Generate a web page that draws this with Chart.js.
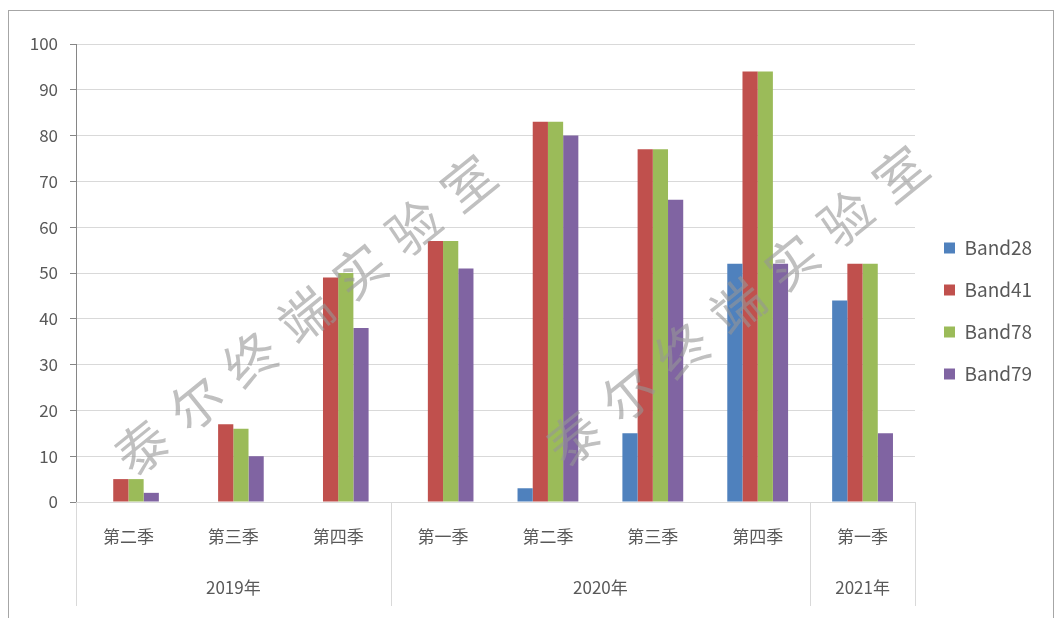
<!DOCTYPE html>
<html>
<head>
<meta charset="utf-8">
<script src="https://cdn.jsdelivr.net/npm/chart.js@4/dist/chart.umd.min.js"></script>
<style>
  body { margin: 0; background: #fff; }
  #wrap { position: relative; width: 1061px; height: 618px; }
  #frame { position: absolute; left: 8px; top: 10px; width: 1046px; height: 620px; border: 1px solid #a6a6a6; box-sizing: border-box; }
</style>
</head>
<body>
<div id="wrap">
  <div id="frame"></div>
  <canvas id="bandChart" width="1061" height="618"></canvas>
</div>
<script>
// quarters and the year each one belongs to
const quarters = ["第二季", "第三季", "第四季", "第一季", "第二季", "第三季", "第四季", "第一季"];
const years = ["2019年", "2020年", "2021年"];
const yearSpans = [3, 4, 1]; // number of quarters per year

const band28 = [0, 0, 0, 0, 3, 15, 52, 44];
const band41 = [5, 17, 49, 57, 83, 77, 94, 52];
const band78 = [5, 16, 50, 57, 83, 77, 94, 52];
const band79 = [2, 10, 38, 51, 80, 66, 52, 15];

const watermark = "泰尔终端实验室";
const textFont = "'Noto Sans CJK SC', 'Noto Sans', sans-serif";

// draws the year row, its dividers and the watermark
const extras = {
    id: "extras",
    beforeLayout(chart) {
        // keep the legend column as wide and placed as in the original
        const lg = chart.legend;
        if (lg && !lg._fixed) {
            const fit = lg.fit.bind(lg);
            lg.fit = function () { fit(); this.width = 146; };
            const draw = lg.draw.bind(lg);
            lg.draw = function () {
                const c = this.ctx;
                c.save();
                c.translate(6, -20);
                draw();
                c.restore();
            };
            lg._fixed = true;
        }
    },
    afterDatasetsDraw(chart) {
        const ctx = chart.ctx;
        ctx.save();
        ctx.fillStyle = "rgba(150,150,150,0.6)";
        ctx.font = "400 52px " + textFont;
        ctx.textAlign = "center";
        ctx.textBaseline = "middle";
        const ang = -39 * Math.PI / 180;
        const gap = 70;
        [[305, 315], [737, 306]].forEach(([cx, cy]) => {
            const chars = watermark.split("");
            chars.forEach((c, i) => {
                const d = (i - (chars.length - 1) / 2) * gap;
                ctx.save();
                ctx.translate(cx + d * Math.cos(ang), cy + d * Math.sin(ang));
                ctx.rotate(ang);
                ctx.fillText(c, 0, 0);
                ctx.restore();
            });
        });
        ctx.restore();
    },
    afterDraw(chart) {
        const ctx = chart.ctx;
        const area = chart.chartArea;
        const step = (area.right - area.left) / quarters.length;
        ctx.save();
        ctx.strokeStyle = "#d9d9d9";
        ctx.lineWidth = 1;
        let idx = 0;
        const bounds = [0];
        yearSpans.forEach(n => { idx += n; bounds.push(idx); });
        bounds.forEach(b => {
            const px = Math.round(area.left + b * step) + 0.5;
            ctx.beginPath();
            ctx.moveTo(px, area.bottom);
            ctx.lineTo(px, 606);
            ctx.stroke();
        });
        ctx.fillStyle = "#595959";
        ctx.font = "17px " + textFont;
        ctx.textAlign = "center";
        ctx.textBaseline = "middle";
        years.forEach((y, i) => {
            const mid = area.left + (bounds[i] + bounds[i + 1]) / 2 * step;
            ctx.fillText(y, mid, 588);
        });
        ctx.restore();
    }
};

document.addEventListener("DOMContentLoaded", () => {
    const ctx = document.getElementById("bandChart").getContext("2d");
    new Chart(ctx, {
        type: "bar",
        data: {
            labels: quarters,
            datasets: [
                { label: "Band28", data: band28, backgroundColor: "#4f81bd" },
                { label: "Band41", data: band41, backgroundColor: "#c0504d" },
                { label: "Band78", data: band78, backgroundColor: "#9bbb59" },
                { label: "Band79", data: band79, backgroundColor: "#8064a2" },
            ],
        },
        options: {
            responsive: false,
            animation: false,
            layout: { padding: { left: 10, top: 44, right: 0, bottom: 0 } },
            datasets: { bar: { barPercentage: 1, categoryPercentage: 0.58 } },
            scales: {
                x: {
                    grid: { display: false },
                    border: { color: "#d9d9d9" },
                    ticks: {
                        color: "#595959",
                        font: { size: 17, family: textFont },
                        padding: 16,
                        maxRotation: 0,
                    },
                    afterFit(scale) { scale.height = 116; },
                },
                y: {
                    min: 0,
                    max: 100,
                    ticks: {
                        stepSize: 10,
                        color: "#595959",
                        font: { size: 17, family: textFont },
                        padding: 12,
                    },
                    grid: { color: "#d9d9d9", tickLength: 6, tickColor: "#868686" },
                    border: { color: "#868686" },
                    afterFit(scale) { scale.width = 66; },
                },
            },
            plugins: {
                legend: {
                    position: "right",
                    labels: {
                        boxWidth: 11,
                        boxHeight: 11,
                        padding: 23,
                        color: "#595959",
                        font: { size: 19, family: textFont },
                    },
                },
                tooltip: { enabled: false },
            },
        },
        plugins: [extras],
    });
});
</script>
</body>
</html>
